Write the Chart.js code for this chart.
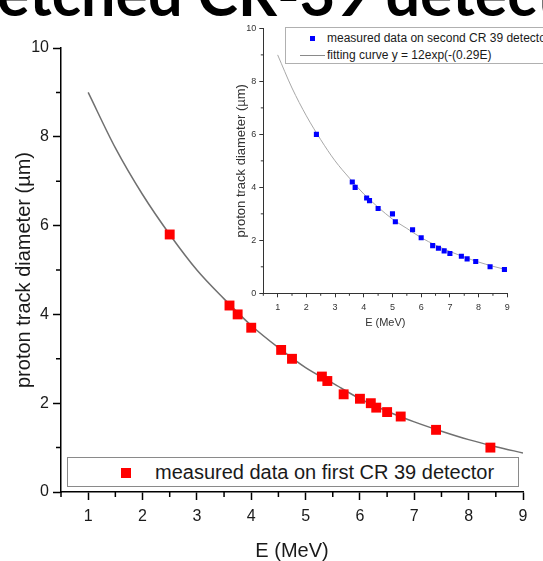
<!DOCTYPE html>
<html>
<head>
<meta charset="utf-8">
<script src="https://cdn.jsdelivr.net/npm/chart.js@4.4.1/dist/chart.umd.min.js"></script>
<style>
  html, body { margin: 0; padding: 0; background: #fff; }
  #wrap { position: relative; width: 543px; height: 561px; overflow: hidden; background: #fff; }
  #title { position: absolute; left: -3px; top: -38px; font: bold 61px Lato, "Open Sans", sans-serif; line-height: 61px; white-space: nowrap; color: #000; z-index: 5; }
  canvas { position: absolute; }
  #main { left: 0; top: 0; }
  #inset { left: 232px; top: 20px; }
  .box { position: absolute; background: #fff; box-sizing: border-box; }
  .txt { position: absolute; white-space: nowrap; font-family: "Liberation Sans", Arial, sans-serif; color: #1a1a1a; }
  .sq { position: absolute; }
</style>
</head>
<body>
<div id="wrap">
  <div id="title">etched CR-39 detector</div>
  <canvas id="main" width="543" height="563"></canvas>
  <canvas id="inset" width="311" height="320"></canvas>

  <!-- main legend -->
  <div class="box" style="left:67px;top:457px;width:452px;height:30px;border:1.5px solid #8a8a8a;"></div>
  <div class="sq" style="left:121px;top:468px;width:10px;height:10px;background:#ff0000;"></div>
  <div class="txt" style="left:155px;top:460px;font-size:20px;line-height:24px;">measured data on first CR 39 detector</div>

  <!-- inset legend -->
  <div class="box" style="left:285px;top:27px;width:300px;height:37px;border:1px solid #b0b0b0;"></div>
  <div class="sq" style="left:310px;top:36px;width:5px;height:5px;background:#0000ff;"></div>
  <div class="sq" style="left:300px;top:55px;width:25px;height:1px;background:#8a8a8a;"></div>
  <div class="txt" style="left:327px;top:31px;font-size:12px;line-height:14px;">measured data on second CR 39 detector</div>
  <div class="txt" style="left:327px;top:48px;font-size:12px;line-height:14px;">fitting curve y = 12exp(-(0.29E)</div>
</div>
<script>
// --- Data ---
const mainE = [2.5, 3.6, 3.75, 4.0, 4.55, 4.75, 5.3, 5.4, 5.7, 6.0, 6.2, 6.3, 6.5, 6.75, 7.4, 8.4];
const mainD = [5.8, 4.2, 4.0, 3.7, 3.2, 3.0, 2.6, 2.5, 2.2, 2.1, 2.0, 1.9, 1.8, 1.7, 1.4, 1.0];

const insetE = [2.35, 3.6, 3.7, 4.1, 4.2, 4.5, 5.0, 5.1, 5.7, 6.0, 6.4, 6.6, 6.8, 7.0, 7.4, 7.6, 7.9, 8.4, 8.9];
const insetD = [6.0, 4.2, 4.0, 3.6, 3.5, 3.2, 3.0, 2.7, 2.4, 2.1, 1.8, 1.7, 1.6, 1.5, 1.4, 1.3, 1.2, 1.0, 0.9];

// fitting curve, sampled from the drawn line
const fitE = [1, 1.5, 2, 2.5, 3, 3.5, 4, 4.5, 5, 5.5, 6, 6.5, 7, 7.5, 8, 8.5, 9];
const fitD = [9.0, 7.75, 6.7, 5.8, 5.0, 4.35, 3.75, 3.25, 2.8, 2.45, 2.1, 1.82, 1.58, 1.37, 1.18, 1.02, 0.88];

// axis ticks
const xTicks = [1, 2, 3, 4, 5, 6, 7, 8, 9];
const xMinor = [0.5, 1.5, 2.5, 3.5, 4.5, 5.5, 6.5, 7.5, 8.5];
const yTicks = [0, 2, 4, 6, 8, 10];
const yMinor = [1, 3, 5, 7, 9];

Chart.defaults.font.family = '"Liberation Sans", Arial, sans-serif';

const pts = (xs, ys) => xs.map((x, i) => ({ x, y: ys[i] }));

// --- minor ticks, drawn through the scales ---
const minorTicks = {
  id: 'minorTicks',
  afterDraw(chart, args, opts) {
    const { ctx, chartArea, scales: { x, y } } = chart;
    ctx.save();
    ctx.strokeStyle = opts.color;
    ctx.lineWidth = opts.width;
    ctx.beginPath();
    xMinor.forEach(v => {
      const px = x.getPixelForValue(v);
      ctx.moveTo(px, chartArea.bottom);
      ctx.lineTo(px, chartArea.bottom + opts.len);
    });
    yMinor.forEach(v => {
      const py = y.getPixelForValue(v);
      ctx.moveTo(chartArea.left, py);
      ctx.lineTo(chartArea.left - opts.len, py);
    });
    ctx.stroke();
    ctx.restore();
  }
};

function axis(o) {
  return {
    type: 'linear',
    min: o.min, max: o.max,
    afterBuildTicks: s => { s.ticks = o.ticks.map(v => ({ value: v })); },
    afterFit: s => { if (o.h) s.height = o.h; if (o.w) s.width = o.w; },
    border: { display: true, color: o.color, width: o.lw },
    grid: { drawOnChartArea: false, drawTicks: true, tickLength: o.tl, tickWidth: o.lw, tickColor: o.color },
    ticks: { font: { size: o.fs }, color: o.tc, padding: o.pad, autoSkip: false, maxRotation: 0 },
    title: { display: true, text: o.title, font: { size: o.tfs }, color: o.tc, padding: o.tpad }
  };
}

// --- Main chart ---
new Chart(document.getElementById('main'), {
  type: 'scatter',
  data: {
    datasets: [
      { data: pts(mainE, mainD), pointStyle: 'rect', pointRadius: 7, backgroundColor: '#ff0000', borderWidth: 0, order: 1 },
      { data: pts(fitE, fitD), showLine: true, borderColor: '#707070', borderWidth: 1.5, pointRadius: 0, cubicInterpolationMode: 'monotone', order: 2 }
    ]
  },
  options: {
    responsive: false, animation: false, events: [],
    layout: { padding: { top: 48, right: 20, left: 0, bottom: 0 } },
    plugins: { legend: { display: false }, tooltip: { enabled: false }, minorTicks: { color: '#000', width: 1.5, len: 5 } },
    scales: {
      x: axis({ min: 0.5, max: 9, ticks: xTicks, h: 71, color: '#000', lw: 1.5, tl: 8, fs: 16, tc: '#1a1a1a', pad: 7, title: 'E (MeV)', tfs: 20, tpad: { top: 0, bottom: 0 } }),
      y: axis({ min: 0, max: 10, ticks: yTicks, w: 61, color: '#000', lw: 1.5, tl: 8, fs: 16, tc: '#1a1a1a', pad: 4, title: 'proton track diameter (µm)', tfs: 20, tpad: { top: 12, bottom: 0 } })
    }
  },
  plugins: [minorTicks]
});

// --- Inset chart ---
new Chart(document.getElementById('inset'), {
  type: 'scatter',
  data: {
    datasets: [
      { data: pts(insetE, insetD), pointStyle: 'rect', pointRadius: 3.6, backgroundColor: '#0000ff', borderWidth: 0, order: 1 },
      { data: pts(fitE, fitD), showLine: true, borderColor: '#a8a8a8', borderWidth: 1, pointRadius: 0, cubicInterpolationMode: 'monotone', order: 2 }
    ]
  },
  options: {
    responsive: false, animation: false, events: [],
    layout: { padding: { top: 8.3, right: 35.7, left: 0, bottom: 0 } },
    plugins: { legend: { display: false }, tooltip: { enabled: false }, minorTicks: { color: '#333', width: 1, len: 2.5 } },
    scales: {
      x: axis({ min: 0.5, max: 9, ticks: xTicks, h: 46.7, color: '#333', lw: 1, tl: 4, fs: 9, tc: '#333', pad: 4.5, title: 'E (MeV)', tfs: 11, tpad: { top: 0, bottom: 10.5 } }),
      y: axis({ min: 0, max: 10, ticks: yTicks, w: 31.3, color: '#333', lw: 1, tl: 4, fs: 9, tc: '#333', pad: 3, title: 'proton track diameter (µm)', tfs: 13, tpad: { top: 2, bottom: 0 } })
    }
  },
  plugins: [minorTicks]
});
</script>
</body>
</html>
